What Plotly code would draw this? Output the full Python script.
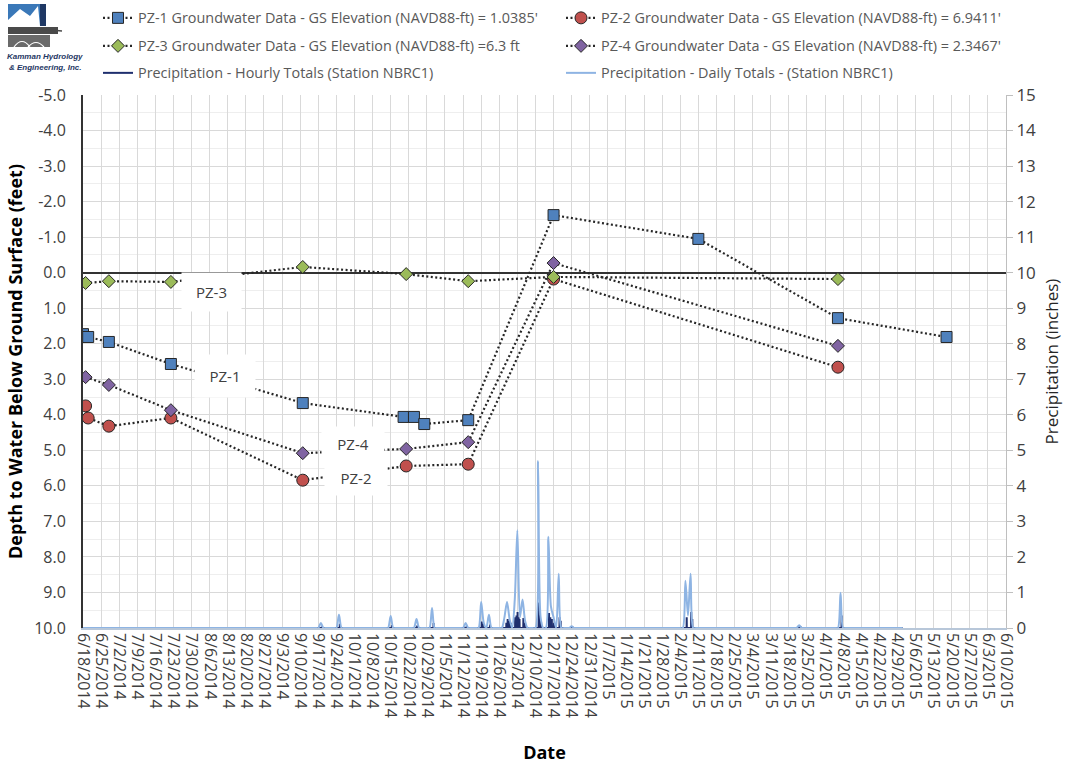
import plotly.graph_objects as go
from datetime import datetime, timedelta

# ---------------- data ----------------
pz1_dates = ["2014-06-18", "2014-06-20", "2014-06-28", "2014-07-22", "2014-09-11", "2014-10-20",
             "2014-10-24", "2014-10-28", "2014-11-14", "2014-12-17", "2015-02-11", "2015-04-06", "2015-05-18"]
pz1_depth = [1.73, 1.81, 1.95, 2.57, 3.67, 4.06, 4.06, 4.26, 4.15, -1.62, -0.95, 1.28, 1.81]

pz2_dates = ["2014-06-19", "2014-06-20", "2014-06-28", "2014-07-22", "2014-09-11", "2014-10-21",
             "2014-11-14", "2014-12-17", "2015-04-06"]
pz2_depth = [3.75, 4.09, 4.32, 4.09, 5.84, 5.44, 5.39, 0.18, 2.66]

pz3_dates = ["2014-06-19", "2014-06-28", "2014-07-22", "2014-09-11", "2014-10-21", "2014-11-14",
             "2014-12-17", "2015-04-06"]
pz3_depth = [0.29, 0.24, 0.26, -0.16, 0.04, 0.24, 0.12, 0.18]

pz4_dates = ["2014-06-19", "2014-06-28", "2014-07-22", "2014-09-11", "2014-10-21", "2014-11-14",
             "2014-12-17", "2015-04-06"]
pz4_depth = [2.94, 3.16, 3.87, 5.08, 4.96, 4.77, -0.27, 2.06]

# daily precipitation: record period and wet days (all other days = 0)
precip_start = "2014-06-18"
precip_end = "2015-05-01"
daily_wet_dates = ["2014-09-18", "2014-09-25", "2014-10-15", "2014-10-25", "2014-10-31", "2014-11-13",
                   "2014-11-19", "2014-11-20", "2014-11-22", "2014-11-28", "2014-11-29", "2014-11-30",
                   "2014-12-02", "2014-12-03", "2014-12-04", "2014-12-05", "2014-12-06", "2014-12-11",
                   "2014-12-12", "2014-12-15", "2014-12-16", "2014-12-17", "2014-12-19", "2014-12-24",
                   "2015-02-06", "2015-02-07", "2015-02-08", "2015-03-22", "2015-04-07"]
daily_wet_vals = [0.14, 0.37, 0.34, 0.25, 0.56, 0.14,
                  0.73, 0.15, 0.37, 0.30, 0.73, 0.25,
                  0.80, 2.75, 0.30, 0.80, 0.20, 4.70,
                  0.30, 2.57, 0.60, 0.30, 1.53, 0.05,
                  1.33, 0.35, 1.53, 0.08, 0.99]

# hourly precipitation: wet hours (all other hours = 0)
hourly_wet_times = ["2014-09-18 10:00", "2014-09-25 08:00", "2014-10-15 12:00", "2014-10-25 06:00",
                    "2014-10-31 14:00", "2014-11-13 09:00", "2014-11-19 05:00", "2014-11-19 15:00",
                    "2014-11-22 10:00", "2014-11-28 18:00", "2014-11-29 06:00", "2014-11-29 20:00",
                    "2014-11-30 10:00", "2014-12-02 04:00", "2014-12-02 16:00", "2014-12-03 02:00",
                    "2014-12-03 12:00", "2014-12-03 20:00", "2014-12-05 08:00", "2014-12-05 20:00",
                    "2014-12-11 06:00", "2014-12-11 16:00", "2014-12-12 04:00", "2014-12-15 06:00",
                    "2014-12-15 18:00", "2014-12-16 08:00", "2014-12-17 04:00", "2014-12-19 08:00",
                    "2014-12-19 18:00", "2014-12-24 12:00", "2015-02-06 12:00", "2015-02-08 06:00",
                    "2015-02-08 16:00", "2015-03-22 12:00", "2015-04-07 10:00"]
hourly_wet_vals = [0.04, 0.12, 0.08, 0.07,
                   0.14, 0.05, 0.18, 0.12,
                   0.10, 0.15, 0.25, 0.20,
                   0.15, 0.30, 0.35, 0.45,
                   0.30, 0.25, 0.28, 0.15,
                   0.72, 0.35, 0.18, 0.42,
                   0.30, 0.25, 0.15, 0.30,
                   0.20, 0.03, 0.30, 0.45,
                   0.25, 0.05, 0.35]

tick_dates = ["2014-06-18", "2014-06-25", "2014-07-02", "2014-07-09", "2014-07-16", "2014-07-23",
              "2014-07-30", "2014-08-06", "2014-08-13", "2014-08-20", "2014-08-27", "2014-09-03",
              "2014-09-10", "2014-09-17", "2014-09-24", "2014-10-01", "2014-10-08", "2014-10-15",
              "2014-10-22", "2014-10-29", "2014-11-05", "2014-11-12", "2014-11-19", "2014-11-26",
              "2014-12-03", "2014-12-10", "2014-12-17", "2014-12-24", "2014-12-31", "2015-01-07",
              "2015-01-14", "2015-01-21", "2015-01-28", "2015-02-04", "2015-02-11", "2015-02-18",
              "2015-02-25", "2015-03-04", "2015-03-11", "2015-03-18", "2015-03-25", "2015-04-01",
              "2015-04-08", "2015-04-15", "2015-04-22", "2015-04-29", "2015-05-06", "2015-05-13",
              "2015-05-20", "2015-05-27", "2015-06-03", "2015-06-10"]
depth_ticks = [-5, -4, -3, -2, -1, 0, 1, 2, 3, 4, 5, 6, 7, 8, 9, 10]
depth_tick_labels = ["-5.0", "-4.0", "-3.0", "-2.0", "-1.0", "0.0", "1.0", "2.0", "3.0", "4.0",
                     "5.0", "6.0", "7.0", "8.0", "9.0", "10.0"]
precip_ticks = list(range(0, 16))

# ---------------- build precipitation series ----------------
d0 = datetime.strptime(precip_start, "%Y-%m-%d")
d1 = datetime.strptime(precip_end, "%Y-%m-%d")
wet = dict(zip(daily_wet_dates, daily_wet_vals))
daily_x, daily_y = [], []
d = d0
while d <= d1:
    k = d.strftime("%Y-%m-%d")
    daily_x.append(k)
    daily_y.append(wet.get(k, 0.0))
    d += timedelta(days=1)

hourly_x = [precip_start + " 00:00"]
hourly_y = [0.0]
for t, v in zip(hourly_wet_times, hourly_wet_vals):
    tt = datetime.strptime(t, "%Y-%m-%d %H:%M")
    for dt, val in ((-1, 0.0), (0, v), (1, 0.0)):
        hourly_x.append((tt + timedelta(hours=dt)).strftime("%Y-%m-%d %H:%M"))
        hourly_y.append(val)
hourly_x.append(precip_end + " 00:00")
hourly_y.append(0.0)

tick_text = []
for s in tick_dates:
    dd = datetime.strptime(s, "%Y-%m-%d")
    tick_text.append(f"{dd.month}/{dd.day}/{dd.year}")

# ---------------- figure ----------------
FONT = "Open Sans"
L, R, T, B = 83, 1006, 95, 628
W, H = R - L, B - T


def px(x):
    return (x - L) / W


def py(y):
    return (B - y) / H


fig = go.Figure()

dot_line = dict(color="#262626", width=2.2, dash="2px,2.5px")
mk_line = dict(color="#262626", width=1)

fig.add_trace(go.Scatter(
    x=pz1_dates, y=pz1_depth, mode="lines+markers", legend="legend",
    name="PZ-1 Groundwater Data - GS Elevation (NAVD88-ft) = 1.0385'",
    line=dot_line, marker=dict(symbol="square", size=11, color="#4f81bd", line=mk_line)))
fig.add_trace(go.Scatter(
    x=pz2_dates, y=pz2_depth, mode="lines+markers", legend="legend2",
    name="PZ-2 Groundwater Data - GS Elevation (NAVD88-ft) = 6.9411'",
    line=dot_line, marker=dict(symbol="circle", size=12, color="#c0504d", line=mk_line)))
fig.add_trace(go.Scatter(
    x=pz3_dates, y=pz3_depth, mode="lines+markers", legend="legend3",
    name="PZ-3 Groundwater Data - GS Elevation (NAVD88-ft) =6.3 ft",
    line=dot_line, marker=dict(symbol="diamond", size=10, color="#9bbb59", line=mk_line)))
fig.add_trace(go.Scatter(
    x=pz4_dates, y=pz4_depth, mode="lines+markers", legend="legend4",
    name="PZ-4 Groundwater Data - GS Elevation (NAVD88-ft) = 2.3467'",
    line=dot_line, marker=dict(symbol="diamond", size=10, color="#8064a2", line=mk_line)))
fig.add_trace(go.Scatter(
    x=hourly_x, y=hourly_y, mode="lines", yaxis="y2", legend="legend5",
    name="Precipitation - Hourly Totals (Station NBRC1)",
    line=dict(color="#1f2f6e", width=2)))
fig.add_trace(go.Scatter(
    x=daily_x, y=daily_y, mode="lines", yaxis="y2", legend="legend6",
    name="Precipitation - Daily Totals - (Station NBRC1)",
    line=dict(color="#8eb4e3", width=2, shape="spline", smoothing=0.8)))

leg_common = dict(orientation="h", xanchor="left", yanchor="middle",
                  font=dict(family=FONT, size=14.4, color="#595959"), bgcolor="rgba(0,0,0,0)",
                  itemwidth=30)
COL1, COL2 = 98, 561
ROWS = [18, 46, 73]

annos = []
for txt, cx, cy, w, h in (("PZ-3", 211, 292, 57, 36), ("PZ-1", 225, 376, 58, 40),
                          ("PZ-4", 353, 444, 60, 32), ("PZ-2", 356, 478, 60, 32)):
    annos.append(dict(text=txt, xref="paper", yref="paper", x=px(cx), y=py(cy), showarrow=False,
                      xanchor="center", yanchor="middle",
                      bgcolor="white", width=w, height=h, font=dict(family=FONT, size=15, color="#404040")))

# logo text
for txt, yy in (("<i><b>Kamman Hydrology</b></i>", 57), ("<i><b>&amp; Engineering, Inc.</b></i>", 67)):
    annos.append(dict(text=txt, xref="paper", yref="paper", x=px(45), y=py(yy),
                      xanchor="center", yanchor="middle", showarrow=False,
                      font=dict(family="Liberation Sans", size=8, color="#1f3864")))

shapes = [
    dict(type="rect", xref="paper", yref="paper", x0=px(8), x1=px(45), y0=py(26), y1=py(4),
         fillcolor="#3a78b8", line=dict(width=0)),
    dict(type="path", xref="paper", yref="paper",
         path=f"M {px(8)} {py(20)} L {px(20)} {py(9)} L {px(30)} {py(16)} L {px(38)} {py(6)} L {px(40)} {py(26)} L {px(8)} {py(26)} Z",
         fillcolor="white", line=dict(width=0)),
    dict(type="rect", xref="paper", yref="paper", x0=px(40), x1=px(46), y0=py(26), y1=py(4),
         fillcolor="#1f3864", line=dict(width=0)),
    dict(type="rect", xref="paper", yref="paper", x0=px(8), x1=px(58), y0=py(34), y1=py(27),
         fillcolor="#4a4a4a", line=dict(width=0)),
    dict(type="line", xref="paper", yref="paper", x0=px(40), x1=px(62), y0=py(29), y1=py(31),
         line=dict(color="#4a4a4a", width=1.5)),
    dict(type="rect", xref="paper", yref="paper", x0=px(8), x1=px(50), y0=py(47), y1=py(35),
         fillcolor="#6a6a6a", line=dict(width=0)),
    dict(type="path", xref="paper", yref="paper",
         path=f"M {px(14)} {py(47)} Q {px(22)} {py(36)} {px(30)} {py(47)} M {px(28)} {py(47)} Q {px(36)} {py(38)} {px(44)} {py(47)}",
         line=dict(color="white", width=1.2)),
]

legends = {}
positions = [(COL1, ROWS[0]), (COL2, ROWS[0]), (COL1, ROWS[1]), (COL2, ROWS[1]), (COL1, ROWS[2]), (COL2, ROWS[2])]
for i, (cx, cy) in enumerate(positions):
    key = "legend" if i == 0 else f"legend{i + 1}"
    legends[key] = dict(**leg_common, x=px(cx), y=py(cy))

fig.update_layout(
    width=1077, height=766,
    margin=dict(l=L, r=1077 - R, t=T, b=766 - B, autoexpand=False),
    paper_bgcolor="white", plot_bgcolor="white",
    font=dict(family=FONT, color="#404040"),
    showlegend=True,
    annotations=annos,
    shapes=shapes,
    xaxis=dict(
        type="date", range=[tick_dates[0], tick_dates[-1]],
        tickmode="array", tickvals=tick_dates, ticktext=tick_text, tickangle=90,
        tickfont=dict(family=FONT, size=16, color="#404040"),
        showgrid=True, gridcolor="#d9d9d9", gridwidth=1,
        showline=True, linecolor="#b8c7d9", linewidth=1.5, ticks="",
        title=dict(text="<b>Date</b>", font=dict(family=FONT, size=18, color="#000000"), standoff=30),
    ),
    yaxis=dict(
        range=[10, -5], tickmode="array", tickvals=depth_ticks, ticktext=depth_tick_labels,
        tickfont=dict(family=FONT, size=16, color="#404040"), ticklabelstandoff=12,
        showgrid=True, gridcolor="#d9d9d9", gridwidth=1,
        minor=dict(dtick=0.5, showgrid=True, gridcolor="#eeeeee", gridwidth=1),
        zeroline=True, zerolinecolor="#333333", zerolinewidth=1.5,
        showline=True, linecolor="#333333", linewidth=2,
        title=dict(text="<b>Depth to Water Below Ground Surface (feet)</b>",
                   font=dict(family=FONT, size=18, color="#000000"), standoff=7),
    ),
    yaxis2=dict(
        overlaying="y", side="right", range=[0, 15], tickmode="array", tickvals=precip_ticks,
        tickfont=dict(family=FONT, size=17, color="#404040"),
        showgrid=False, zeroline=False,
        showline=True, linecolor="#bfbfbf", linewidth=1, ticks="outside", ticklen=6, tickcolor="#bfbfbf",
        title=dict(text="Precipitation (inches)", font=dict(family=FONT, size=17, color="#262626"), standoff=10),
    ),
    **legends,
)

fig.write_html("out.html", config={"displayModeBar": False},
               post_script="document.body.style.margin='0';document.body.style.overflow='hidden';")
